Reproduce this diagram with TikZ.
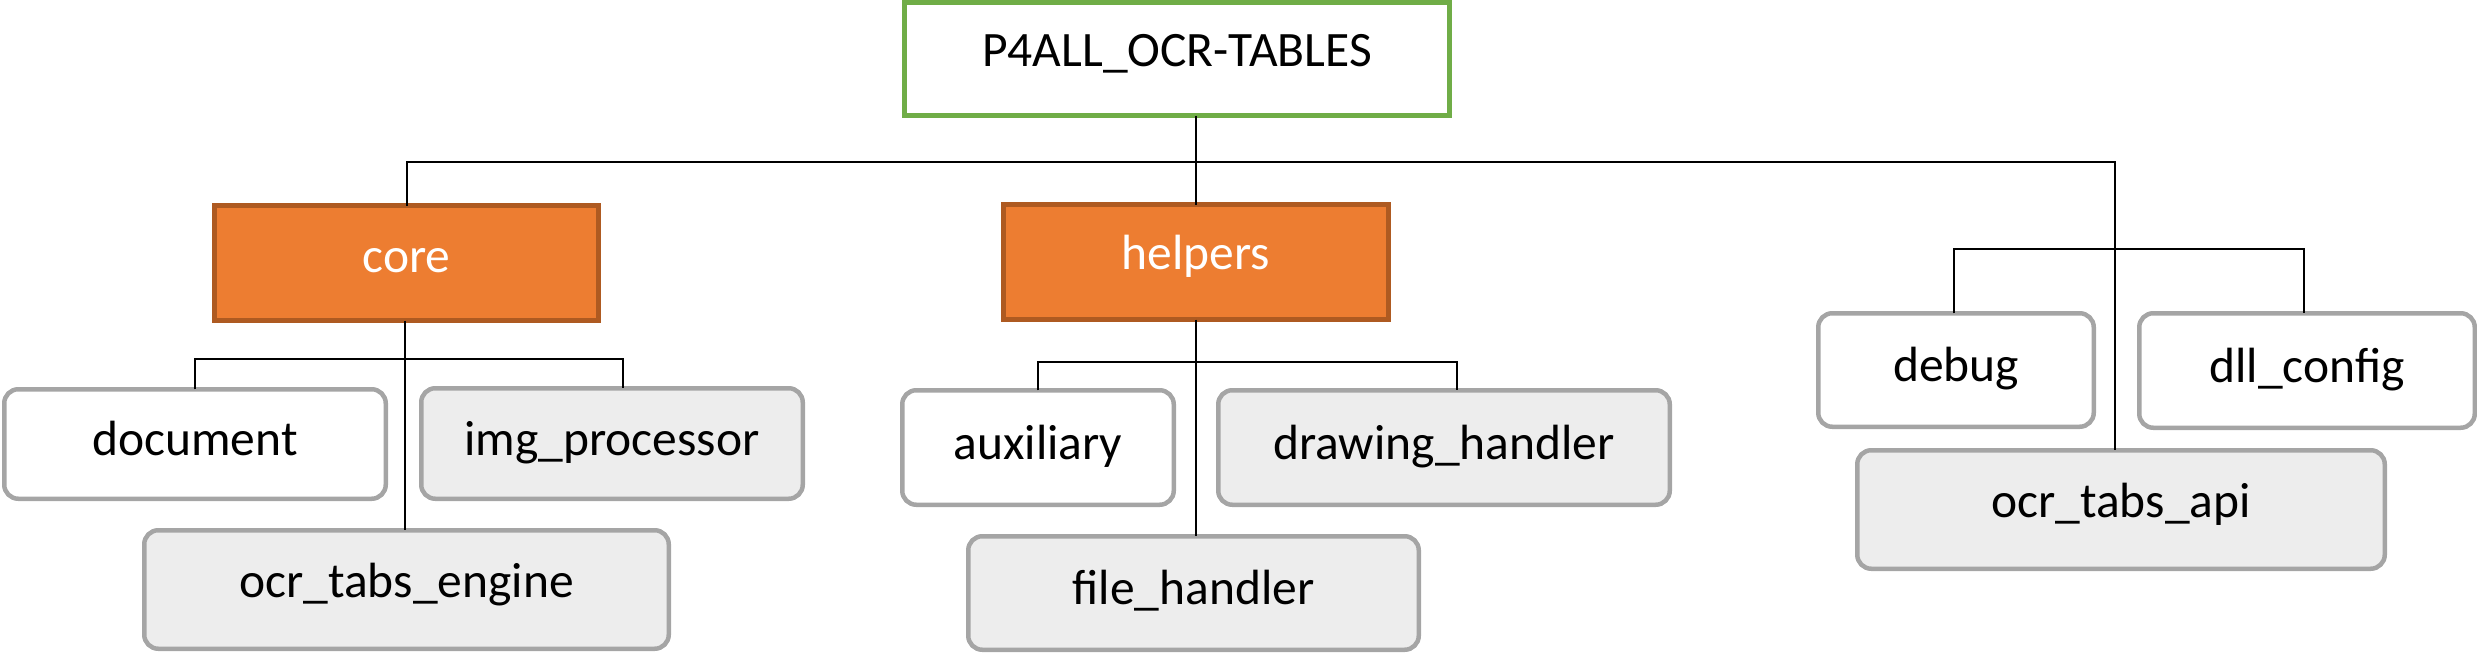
\documentclass[tikz,border=0pt]{standalone}
\usepackage{fontspec}
\setmainfont{Carlito}
\definecolor{rootgreen}{HTML}{70AD47}
\definecolor{orfill}{HTML}{ED7D31}
\definecolor{ordraw}{HTML}{AE5A21}
\definecolor{grdraw}{HTML}{A5A5A5}
\definecolor{grfill}{HTML}{EDEDED}
\begin{document}
\begin{tikzpicture}[x=1pt,y=-1pt,
  every node/.style={font=\fontsize{49.5}{60}\selectfont, inner sep=0pt, outer sep=0pt, text height=23pt, text depth=0pt},
  rootbox/.style={draw=rootgreen, line width=5pt, fill=white},
  pkgbox/.style={draw=ordraw, line width=5pt, fill=orfill, text=white},
  modbox/.style={draw=grdraw, line width=4.5pt, rounded corners=14pt, fill=white},
  modgray/.style={modbox, fill=grfill},
  conn/.style={line width=2pt, black}
]
\useasboundingbox (0,0) rectangle (2477,653);
% nodes
\node[rootbox, minimum width=545pt, minimum height=113pt, text depth=9pt] (root) at (1177,59) {P4ALL\_OCR-TABLES};
\node[pkgbox, minimum width=384pt, minimum height=115pt, text depth=5pt] (core) at (406.5,263) {core};
\node[pkgbox, minimum width=385pt, minimum height=115pt, text depth=9pt] (helpers) at (1196,262) {helpers};
\node[modbox, minimum width=381.5pt, minimum height=109.5pt, text depth=-3pt] (doc) at (195,444) {document};
\node[modgray, minimum width=381.5pt, minimum height=110.5pt, text depth=-3pt] (img) at (612,443.5) {img\_processor};
\node[modgray, minimum width=524.5pt, minimum height=118.5pt, text depth=7pt] (engine) at (406.5,589.5) {ocr\_tabs\_engine};
\node[modbox, minimum width=271.5pt, minimum height=114.5pt, text depth=-1pt] (aux) at (1038,447.5) {auxiliary};
\node[modgray, minimum width=451.5pt, minimum height=114.5pt, text depth=-1pt] (draw) at (1444,447.5) {drawing\_handler};
\node[modgray, minimum width=450.5pt, minimum height=113.5pt, text depth=-1pt] (file) at (1193.5,593) {file\_handler};
\node[modbox, minimum width=275.5pt, minimum height=113.5pt, text depth=-1pt] (debug) at (1956,370) {debug};
\node[modbox, minimum width=335.5pt, minimum height=114.5pt, text depth=-1pt] (dll) at (2307,370.5) {dll\_config};
\node[modgray, minimum width=527.5pt, minimum height=118.5pt, text depth=7pt] (api) at (2121,509.5) {ocr\_tabs\_api};
% connectors
\draw[conn] (root.south -| helpers.north) -- (helpers.north);
\draw[conn] (core.north) -- (core.north |- 0,162) -- ([xshift=-6pt]api.north |- 0,162) -- ([xshift=-6pt]api.north);
\draw[conn] ([xshift=-2pt]core.south) -- ([xshift=-2pt]engine.north);
\draw[conn] (doc.north) -- (doc.north |- 0,359) -- ([xshift=11pt]img.north |- 0,359) -- ([xshift=11pt]img.north);
\draw[conn] (helpers.south) -- (helpers.south |- file.north);
\draw[conn] (aux.north) -- (aux.north |- 0,362) -- ([xshift=13pt]draw.north |- 0,362) -- ([xshift=13pt]draw.north);
\draw[conn] ([xshift=-2pt]debug.north) -- ([xshift=-2pt]debug.north |- 0,249) -- ([xshift=-3pt]dll.north |- 0,249) -- ([xshift=-3pt]dll.north);
\end{tikzpicture}
\end{document}
